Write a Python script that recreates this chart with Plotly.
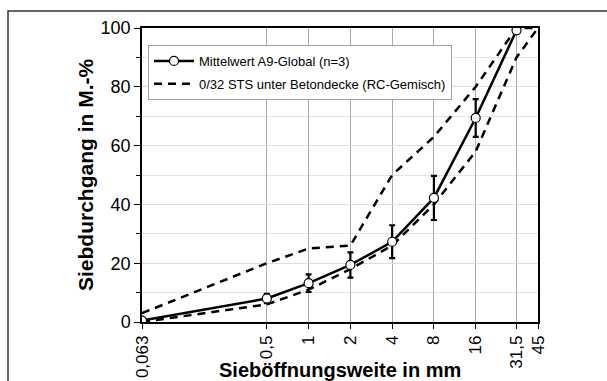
import plotly.graph_objects as go

# Sieve sizes (mm) and tick labels
sieve_mm = [0.063, 0.5, 1, 2, 4, 8, 16, 31.5, 45]
tick_labels = ["0,063", "0,5", "1", "2", "4", "8", "16", "31,5", "45"]

# Mean A9-Global (n=3)
mean_x = [0.063, 0.5, 1, 2, 4, 8, 16, 31.5]
mean_y = [0.5, 8.0, 13.2, 19.4, 27.3, 42.2, 69.4, 99.2]
mean_err = [0.6, 1.6, 3.0, 4.3, 5.6, 7.5, 6.4, 0.8]

# Grading band 0/32 STS unter Betondecke (RC-Gemisch)
band_x = [0.063, 0.5, 1, 2, 4, 8, 16, 31.5, 45]
band_upper = [3, 20, 25, 26, 50, 63, 80, 100, 100]
band_lower = [0, 6, 11, 18, 26, 40, 58, 90, 100]

x_title = "Sieböffnungsweite in mm"
y_title = "Siebdurchgang in M.-%"

font_family = "Liberation Sans, Arial, sans-serif"

# plot area in pixels (left, right, top, bottom)
L, R, T, B = 142, 538, 28, 322
PW, PH = R - L, B - T

fig = go.Figure()

fig.add_trace(go.Scatter(
    x=band_x, y=band_upper, mode="lines",
    line=dict(color="black", width=2.5, dash="8px,6px"),
    name="0/32 STS unter Betondecke (RC-Gemisch)",
    legendrank=2, legendgroup="band", showlegend=True,
))
fig.add_trace(go.Scatter(
    x=band_x, y=band_lower, mode="lines",
    line=dict(color="black", width=2.5, dash="8px,6px"),
    name="0/32 STS unter Betondecke (RC-Gemisch)",
    legendgroup="band", showlegend=False,
))
fig.add_trace(go.Scatter(
    x=mean_x, y=mean_y, mode="lines+markers",
    line=dict(color="black", width=2.5),
    marker=dict(symbol="circle", size=9, color="white",
                line=dict(color="black", width=1.2)),
    error_y=dict(type="data", array=mean_err, visible=True,
                 color="black", thickness=2.2, width=3),
    name="Mittelwert A9-Global (n=3)",
    legendrank=1, legendgroup="mean",
))

fig.update_layout(
    width=607, height=381,
    margin=dict(l=L, r=607 - R, t=T, b=381 - B),
    paper_bgcolor="white", plot_bgcolor="white",
    font=dict(family=font_family, color="black", size=15),
    showlegend=True,
    legend=dict(
        x=(148 - L) / PW, y=(B - 45) / PH, xanchor="left", yanchor="top",
        bgcolor="white", bordercolor="#a0a0a0", borderwidth=1,
        font=dict(size=13, family=font_family),
        itemwidth=40, tracegroupgap=3,
    ),
    shapes=[dict(
        type="rect", xref="paper", yref="paper",
        x0=(8 - L) / PW, x1=(640 - L) / PW,
        y0=(B - 420) / PH, y1=(B - 11) / PH,
        line=dict(color="#333333", width=1.5), fillcolor="rgba(0,0,0,0)",
        layer="below",
    )],
    annotations=[
        dict(text="<b>" + x_title + "</b>", xref="paper", yref="paper",
             x=0.5, y=(B - 370) / PH, xanchor="center", yanchor="middle",
             showarrow=False, font=dict(size=20)),
        dict(text="<b>" + y_title + "</b>", xref="paper", yref="paper",
             x=(85 - L) / PW, y=0.5, xanchor="center", yanchor="middle",
             textangle=-90, showarrow=False, font=dict(size=21)),
    ],
    xaxis2=dict(
        type="log", overlaying="x", side="top",
        range=[-1.2007, 1.6532],
        tickmode="array", tickvals=sieve_mm, showticklabels=False,
        ticks="inside", ticklen=5, tickcolor="black", tickwidth=1.2,
        showgrid=False, zeroline=False, showline=False,
    ),
    xaxis=dict(
        type="log",
        automargin=False,
        range=[-1.2007, 1.6532],
        tickmode="array", tickvals=sieve_mm, ticktext=tick_labels,
        tickangle=-90,
        tickfont=dict(size=17),
        ticks="outside", ticklen=5, tickcolor="black", tickwidth=1.2,
        showline=True, linecolor="black", linewidth=1.5, mirror=True,
        showgrid=True, gridcolor="#ababab", gridwidth=1,
        zeroline=False,
    ),
    yaxis=dict(
        automargin=False,
        range=[0, 100],
        tickmode="linear", tick0=0, dtick=20,
        tickfont=dict(size=18),
        ticks="outside", ticklen=6, tickcolor="black", tickwidth=1.2,
        showline=True, linecolor="black", linewidth=1.5, mirror=True,
        showgrid=True, gridcolor="#dcdcdc", gridwidth=1,
        minor=dict(dtick=10, tick0=0, ticks="outside", ticklen=4, tickcolor="black",
                   showgrid=True, gridcolor="#e4e4e4"),
        zeroline=False,
    ),
)

fig.write_html(
    "out.html",
    config={"displayModeBar": False},
    post_script="document.body.style.margin='0';document.body.style.overflow='hidden';",
)
